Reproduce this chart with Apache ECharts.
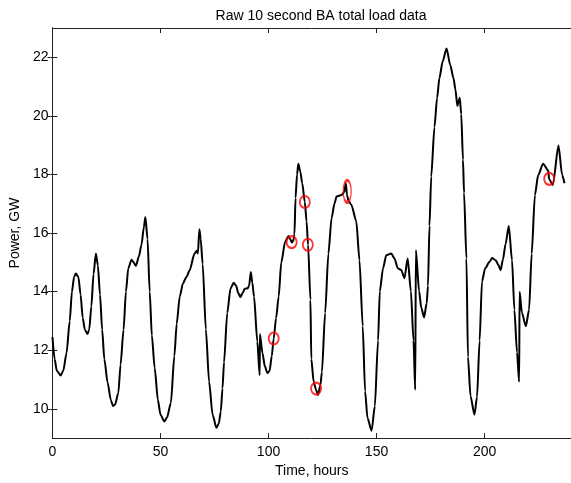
<!DOCTYPE html>
<html>
<head>
<meta charset="utf-8">
<script src="https://cdn.jsdelivr.net/npm/echarts@6/dist/echarts.min.js"></script>
<style>html,body{margin:0;padding:0;background:#fff}#c{width:571px;height:483px}</style>
</head>
<body>
<div id="c"></div>
<script>
// Time in hours
const hours = [0,1,2,3.8,5,6.5,8,9,10,10.8,12,13,14,15,16.2,17,18,19,20.1,21,22,23,24,25.5,27,28,29,30.5,31.5,32.9,34,35.1,36.6,37.5,38.6,40,41.2,42.3,43,44,45,46,47.3,48.8,50,51.8,53,54.8,56.4,57.5,58.9,60.4,62,63.5,65.7,66.8,67.3,68,68.6,69.5,71,72.5,74.1,75.9,77,77.9,78.7,79.4,80.9,82.4,83.9,85,86,87,88,89,90.3,91,91.8,92.5,93.3,94.8,95.9,96.0,97.2,98.3,99.5,100.5,101.5,102.4,103.5,104.7,105.9,107.7,109.2,110,110.8,111.5,112,112.5,113.2,113.8,114.7,115.6,116.8,117.6,118.3,119.4,119.8,120.9,122,122.9,124,124.7,126.2,127.7,129.2,130.5,131.5,133.8,135,135.8,136.3,137,138.3,140.6,142.1,143.6,144.7,145.8,147.7,149.2,150.7,151.5,153,154.5,156.8,158.3,159.8,161.4,162.9,164.4,165.9,167.1,167.9,168.2,169.7,170.7,172,173.2,173.8,174.5,175.3,176.8,178,179.1,180.6,182.4,184.1,185.6,186.5,187.4,188.5,189.2,190,190.5,191.6,192.3,193.5,195.3,196.5,197.7,198.8,200.3,202.3,203.5,205.1,206.5,207.4,208.5,209.7,211.2,212.7,213.8,215,216,216.2,217.3,219.1,220.6,221.8,223.3,224.8,227.1,229.4,229.9,231.6,234.2,235.9,237];
// BA total load, GW
const loadGW = [12.45,11.7,11.3,11.14,11.3,11.9,13.0,14.0,14.5,14.62,14.5,13.9,13.1,12.7,12.55,12.7,13.5,14.6,15.3,14.9,13.9,12.7,11.7,10.9,10.3,10.1,10.15,10.55,11.5,12.7,14.0,14.8,15.09,15.0,14.88,15.2,15.6,16.2,16.55,15.8,14.0,12.5,11.4,10.3,9.8,9.57,9.7,10.2,11.8,12.9,13.83,14.28,14.5,14.73,15.29,15.4,15.3,16.13,15.8,14.95,12.71,10.92,9.8,9.35,9.5,9.91,10.7,11.59,13.27,14.11,14.3,14.2,13.95,13.82,13.95,14.1,14.11,14.2,14.67,14.3,13.83,12.3,11.15,12.55,11.9,11.45,11.22,11.3,11.8,12.4,13.1,13.83,15.0,15.7,15.9,15.8,15.68,15.75,15.96,17.2,18.0,18.37,18.1,17.7,17.06,16.4,15.6,13.72,11.7,10.92,10.65,10.47,10.8,11.25,13.27,15.29,16.52,17.0,17.25,17.3,17.4,17.7,17.3,17.1,16.97,16.41,15.07,12.82,10.6,9.69,9.25,10.09,12.33,14.01,14.8,15.24,15.3,15.13,14.8,14.74,14.46,15.13,14.01,12.33,10.65,15.41,14.01,13.45,13.12,13.6,14.2,16.25,17.93,19.61,20.6,21.29,21.86,22.3,21.74,21.29,20.9,20.34,20.62,20.06,18.5,17.37,15.13,11.77,10.43,9.8,10.4,12.33,14.35,14.8,15.02,15.15,15.07,14.9,14.73,15.1,15.62,16.24,15.07,13.38,11.93,10.92,14.0,13.27,12.82,13.38,15.29,17.3,17.98,18.37,18.14,17.84,17.64,18.99,17.98,17.7];
// Marked (circled) points
const markedHours = [102.4,110.7,116.8,118.2,122.0,229.9];
const markedGW = [12.4,15.69,17.06,15.6,10.69,17.85];
// Elongated marker point
const ellipseHours = [136.4];
const ellipseGW = [17.42];
// Tick values
const xTicks = [0,50,100,150,200];
const yTicks = [10,12,14,16,18,20,22];

const pair = (xs, ys) => xs.map((x, i) => [x, ys[i]]);
const FONT = 'Liberation Sans, Arial, Helvetica, sans-serif';
const AX = '#222';

const chart = echarts.init(document.getElementById('c'), null, {renderer: 'canvas'});
const xBase = {
  type: 'value', min: 0, max: 240,
  axisLine: {show: true, lineStyle: {color: AX, width: 1}},
  axisTick: {show: true, inside: true, length: 5, customValues: xTicks, lineStyle: {color: AX}},
  splitLine: {show: false}
};
const yBase = {
  type: 'value', min: 9, max: 23,
  axisLine: {show: true, lineStyle: {color: AX, width: 1}},
  axisTick: {show: true, inside: true, length: 5, customValues: yTicks, lineStyle: {color: AX}},
  splitLine: {show: false}
};
chart.setOption({
  animation: false,
  backgroundColor: '#fff',
  title: {
    text: 'Raw 10 second BA total load data',
    left: 316, top: 4, textAlign: 'center',
    textStyle: {fontFamily: FONT, fontSize: 14, fontWeight: 'normal', color: '#000'}
  },
  grid: {left: 52, top: 28, width: 528, height: 416},
  xAxis: [
    Object.assign({}, xBase, {
      position: 'bottom',
      name: 'Time, hours', nameLocation: 'middle', nameGap: 22,
      nameTextStyle: {fontFamily: FONT, fontSize: 14, color: '#000'},
      axisLabel: {show: true, customValues: xTicks, margin: 7, fontFamily: FONT, fontSize: 14, color: '#000'}
    }),
    Object.assign({}, xBase, {position: 'top', axisLabel: {show: false}})
  ],
  yAxis: [
    Object.assign({}, yBase, {
      position: 'left',
      name: 'Power, GW', nameLocation: 'middle', nameGap: 24,
      nameTextStyle: {fontFamily: FONT, fontSize: 14, color: '#000'},
      axisLabel: {show: true, customValues: yTicks, margin: 4, fontFamily: FONT, fontSize: 14, color: '#000'}
    }),
    Object.assign({}, yBase, {position: 'right', axisLabel: {show: false}})
  ],
  series: [
    {
      type: 'line', xAxisIndex: 0, yAxisIndex: 0,
      data: pair(hours, loadGW),
      showSymbol: false, symbol: 'none',
      lineStyle: {color: '#000', width: 2},
      smooth: 0.25, smoothMonotone: 'x',
      z: 2
    },
    {
      type: 'scatter', xAxisIndex: 0, yAxisIndex: 0,
      data: pair(markedHours, markedGW),
      symbol: 'circle', symbolSize: [10, 12],
      itemStyle: {color: 'rgba(0,0,0,0)', borderColor: '#ff0000', borderWidth: 2},
      z: 3
    },
    {
      type: 'scatter', xAxisIndex: 0, yAxisIndex: 0,
      data: pair(ellipseHours, ellipseGW),
      symbol: 'circle', symbolSize: [8, 22],
      itemStyle: {color: 'rgba(0,0,0,0)', borderColor: '#ff0000', borderWidth: 2},
      z: 3
    }
  ]
});
</script>
</body>
</html>
